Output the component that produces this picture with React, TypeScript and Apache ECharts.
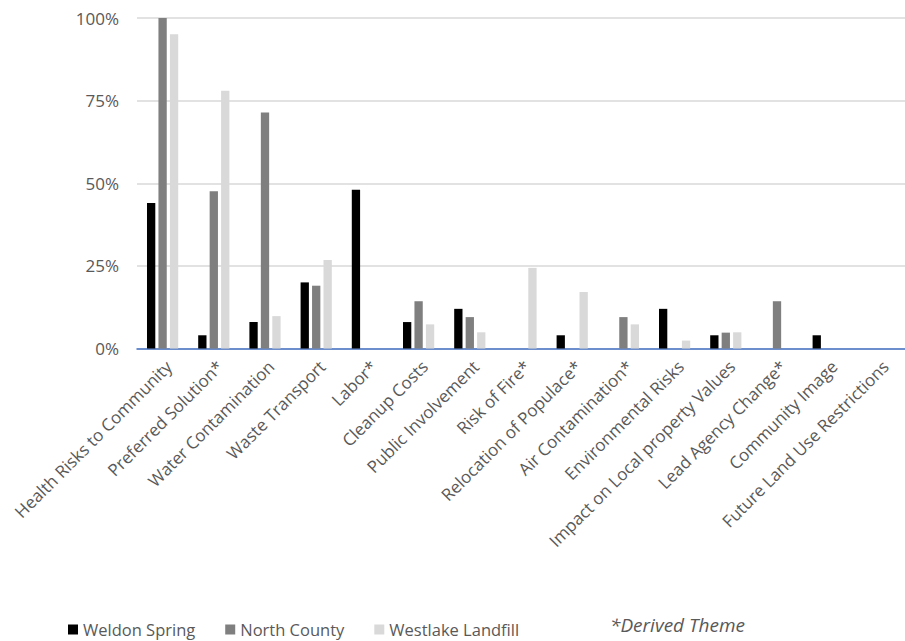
import React, { useEffect, useRef } from "react";
import * as echarts from "echarts";

// Share of comments mentioning each theme, per site (percent)
const categories = [
  "Health Risks to Community",
  "Preferred Solution*",
  "Water Contamination",
  "Waste Transport",
  "Labor*",
  "Cleanup Costs",
  "Public Involvement",
  "Risk of Fire*",
  "Relocation of Populace*",
  "Air Contamination*",
  "Environmental Risks",
  "Impact on Local property Values",
  "Lead Agency Change*",
  "Community Image",
  "Future Land Use Restrictions",
];

const weldonSpring = [44, 4, 8, 20, 48, 8, 12, 0, 4, 0, 12, 4, 0, 4, 0];
const northCounty = [100, 47.6, 71.4, 19, 0, 14.3, 9.5, 0, 0, 9.5, 0, 4.8, 14.3, 0, 0];
const westlakeLandfill = [95.1, 78, 9.8, 26.8, 0, 7.3, 4.9, 24.4, 17.1, 7.3, 2.4, 4.9, 0, 0, 0];

const seriesNames = ["Weldon Spring", "North County", "Westlake Landfill"];
const seriesColors = ["#000000", "#7F7F7F", "#D9D9D9"];

const yTicks = { min: 0, max: 100, interval: 25 };

const FONT = "'Open Sans', 'Noto Sans', sans-serif";
const TEXT_COLOR = "#595959";

export default function App() {
  const ref = useRef<HTMLDivElement>(null);

  useEffect(() => {
    if (!ref.current) return;
    const chart = echarts.init(ref.current, undefined, { renderer: "svg" });
    const values = [weldonSpring, northCounty, westlakeLandfill];

    chart.setOption({
      animation: false,
      backgroundColor: "#ffffff",
      textStyle: { fontFamily: FONT },
      grid: { left: 137, right: -12, top: 18, bottom: 292.5, containLabel: false },
      legend: {
        left: 68,
        top: 621,
        padding: 0,
        itemWidth: 10,
        itemHeight: 10,
        itemGap: 30,
        icon: "rect",
        textStyle: { fontFamily: FONT, fontSize: 16.5, color: TEXT_COLOR },
        data: seriesNames,
      },
      xAxis: {
        type: "category",
        data: categories,
        axisLine: { show: true, lineStyle: { color: "#4472C4", width: 1.5 } },
        axisTick: { show: false },
        axisLabel: {
          interval: 0,
          rotate: 45,
          margin: 9,
          align: "right",
          verticalAlign: "top",
          fontFamily: FONT,
          fontSize: 17,
          color: TEXT_COLOR,
        },
      },
      yAxis: {
        type: "value",
        min: yTicks.min,
        max: yTicks.max,
        interval: yTicks.interval,
        axisLine: { show: false },
        axisTick: { show: false },
        splitLine: { lineStyle: { color: "#D9D9D9", width: 1.5 } },
        axisLabel: {
          formatter: "{value}%",
          margin: 18,
          fontFamily: FONT,
          fontSize: 17,
          color: TEXT_COLOR,
        },
      },
      series: seriesNames.map((name, i) => ({
        name,
        type: "bar",
        data: values[i],
        barWidth: 8.3,
        barGap: "38%",
        itemStyle: { color: seriesColors[i] },
      })),
      graphic: [
        {
          type: "text",
          left: 610,
          top: 615,
          style: {
            text: "*Derived Theme",
            fontFamily: FONT,
            fontSize: 19,
            fontStyle: "italic",
            fill: TEXT_COLOR,
          },
        },
      ],
    });

    return () => chart.dispose();
  }, []);

  return (
    <div
      ref={ref}
      style={{ position: "absolute", left: 0, top: 0, width: 905, height: 641 }}
    />
  );
}
